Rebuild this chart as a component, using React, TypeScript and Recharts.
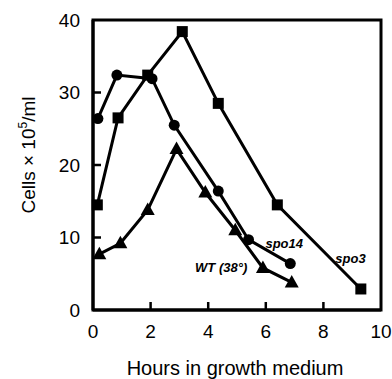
import React from 'react'
import { LineChart, Line, XAxis, YAxis, ReferenceArea, ReferenceDot } from 'recharts'

// spo3 (squares)
const spo3Hours = [0.15, 0.87, 1.9, 3.1, 4.35, 6.4, 9.3]
const spo3Cells = [14.5, 26.5, 32.4, 38.4, 28.5, 14.5, 2.9]

// spo14 (circles)
const spo14Hours = [0.17, 0.83, 2.05, 2.82, 4.35, 5.4, 6.85]
const spo14Cells = [26.4, 32.4, 31.9, 25.5, 16.4, 9.7, 6.4]

// WT at 38° (triangles)
const wtHours = [0.22, 0.95, 1.9, 2.9, 3.9, 4.94, 5.9, 6.9]
const wtCells = [7.7, 9.2, 13.8, 22.2, 16.2, 11.0, 5.8, 3.8]

const xTicks = [0, 2, 4, 6, 8, 10]
const yTicks = [0, 10, 20, 30, 40]

const seriesLabels = [
  { text: 'spo14', x: 6.64, y: 9.25 },
  { text: 'spo3', x: 8.94, y: 7.17 },
  { text: 'WT (38°)', x: 4.45, y: 5.93 },
]

const toPoints = (hours: number[], cells: number[]) =>
  hours.map((h, i) => ({ hours: h, cells: cells[i] }))

const FONT = 'Liberation Sans, Arial, Helvetica, sans-serif'

const SquareDot = (props: any) => {
  const { cx, cy } = props
  return <rect x={cx - 5.5} y={cy - 5.5} width={11} height={11} fill="#000" />
}

const CircleDot = (props: any) => {
  const { cx, cy } = props
  return <circle cx={cx} cy={cy} r={5.5} fill="#000" />
}

const TriangleDot = (props: any) => {
  const { cx, cy } = props
  return <path d={`M${cx},${cy - 7.5} L${cx + 7},${cy + 5} L${cx - 7},${cy + 5} Z`} fill="#000" />
}

const XTick = (props: any) => {
  const { x, y, payload } = props
  const v = payload.value
  return (
    <g>
      {v > 0 && v < 10 && <line x1={x} x2={x} y1={y} y2={y - 8} stroke="#000" strokeWidth={2.5} />}
      <text x={x} y={y + 28} textAnchor="middle" fontSize={19} fontFamily={FONT} fill="#000">
        {v}
      </text>
    </g>
  )
}

const YTick = (props: any) => {
  const { x, y, payload } = props
  const v = payload.value
  return (
    <g>
      {v > 0 && v < 40 && <line x1={x} x2={x + 8} y1={y} y2={y} stroke="#000" strokeWidth={2.5} />}
      <text x={x - 13} y={y} dy="0.36em" textAnchor="end" fontSize={19} fontFamily={FONT} fill="#000">
        {v}
      </text>
    </g>
  )
}

const YLabel = (props: any) => {
  const { viewBox } = props
  const cy = viewBox.y + viewBox.height / 2 - 10
  return (
    <text
      x={0}
      y={0}
      transform={`translate(35, ${cy}) rotate(-90)`}
      textAnchor="middle"
      fontSize={19}
      fontFamily={FONT}
      fill="#000"
    >
      Cells × 10<tspan fontSize={12} dy={-8}>5</tspan>
      <tspan dy={8}>/ml</tspan>
    </text>
  )
}

const XLabel = (props: any) => {
  const { viewBox } = props
  return (
    <text
      x={viewBox.x + viewBox.width / 2 - 2}
      y={375}
      textAnchor="middle"
      fontSize={20}
      fontFamily={FONT}
      fill="#000"
    >
      Hours in growth medium
    </text>
  )
}

export default function App() {
  return (
    <div style={{ width: 392, height: 379 }}>
      <style>{'body{margin:0}'}</style>
      <LineChart width={392} height={379} margin={{ top: 20, right: 11, left: 0, bottom: 0 }}>
        <XAxis
          type="number"
          dataKey="hours"
          domain={[0, 10]}
          ticks={xTicks}
          height={69}
          tickSize={0}
          tickMargin={0}
          tickLine={false}
          tick={<XTick />}
          axisLine={{ stroke: '#000', strokeWidth: 3 }}
          allowDuplicatedCategory={false}
          label={<XLabel />}
        />
        <YAxis
          type="number"
          dataKey="cells"
          domain={[0, 40]}
          ticks={yTicks}
          width={93}
          tickSize={0}
          tickMargin={0}
          tickLine={false}
          tick={<YTick />}
          axisLine={{ stroke: '#000', strokeWidth: 3 }}
          label={<YLabel />}
        />
        <ReferenceArea x1={0} x2={10} y1={0} y2={40} fill="none" fillOpacity={0} stroke="#000" strokeWidth={3} />
        <Line
          data={toPoints(spo3Hours, spo3Cells)}
          dataKey="cells"
          type="linear"
          stroke="#000"
          strokeWidth={3}
          dot={<SquareDot />}
          activeDot={false}
          isAnimationActive={false}
        />
        <Line
          data={toPoints(spo14Hours, spo14Cells)}
          dataKey="cells"
          type="linear"
          stroke="#000"
          strokeWidth={3}
          dot={<CircleDot />}
          activeDot={false}
          isAnimationActive={false}
        />
        <Line
          data={toPoints(wtHours, wtCells)}
          dataKey="cells"
          type="linear"
          stroke="#000"
          strokeWidth={3}
          dot={<TriangleDot />}
          activeDot={false}
          isAnimationActive={false}
        />
        {seriesLabels.map((l) => (
          <ReferenceDot
            key={l.text}
            x={l.x}
            y={l.y}
            r={0}
            fill="none"
            stroke="none"
            label={{
              value: l.text,
              position: 'center',
              fontSize: 13,
              fontStyle: 'italic',
              fontWeight: 'bold',
              fontFamily: FONT,
              fill: '#000',
            }}
          />
        ))}
      </LineChart>
    </div>
  )
}
